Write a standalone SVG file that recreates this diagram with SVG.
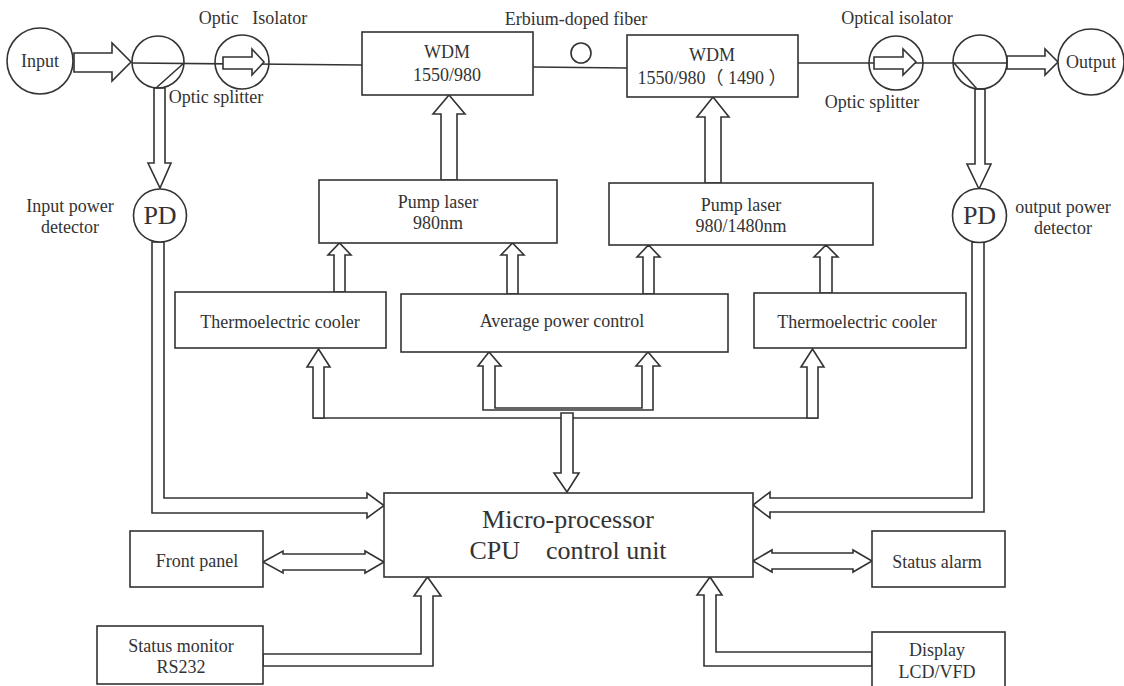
<svg xmlns="http://www.w3.org/2000/svg" width="1124" height="686" viewBox="0 0 1124 686">
<style>
.b{fill:#fff;stroke:#333;stroke-width:1.6}
.l{fill:none;stroke:#333;stroke-width:1.6}
.a{fill:#fff;stroke:#333;stroke-width:1.6;stroke-linejoin:miter}
text{font-family:"Liberation Serif","Noto Sans CJK SC",serif;fill:#333;font-size:18px;text-anchor:middle}
.big{font-size:26px}
</style>
<rect width="1124" height="686" fill="#fff"/>
<g id="connectors">
<polyline class="l" points="132,63 362,65"/>
<polyline class="l" points="533,67 627,68"/>
<polyline class="l" points="798,63 1007,63"/>
<line class="l" x1="184" y1="63" x2="156" y2="88"/>
<line class="l" x1="954" y1="63" x2="977" y2="89"/>
<polygon class="a" points="74,53 112,53 112,43 131,62 112,81 112,72 74,72"/>
<polygon class="a" points="1007,56 1045,56 1045,49 1058,62 1045,75 1045,69 1007,69"/>
<polygon class="a" points="154,88 154,163 148,163 160,188 171,163 165,163 165,88"/>
<polygon class="a" points="975,89 975,164 967,164 979,189 991,164 985,164 985,89"/>
<polygon class="a" points="441,180 441,114 433,114 449,95 465,114 457,114 457,180"/>
<polygon class="a" points="705,183 705,117 697,117 713,97 729,117 721,117 721,183"/>
<polygon class="a" points="334,292 334,255 328,255 339.5,243 351,255 345,255 345,292"/>
<polygon class="a" points="507,294 507,255 501,255 512.5,243 524,255 518,255 518,294"/>
<polygon class="a" points="643,294 643,257 637,257 648.5,245 660,257 654,257 654,294"/>
<polygon class="a" points="820,293 820,257 814,257 826,245 838,257 832,257 832,293"/>
<line class="l" x1="313" y1="418" x2="818" y2="418"/>
<polygon class="a" points="313,418 313,367 307,367 318.5,349 330,367 324,367 324,418"/>
<polygon class="a" points="807,418 807,367 801,367 812.5,349 824,367 818,367 818,418"/>
<polygon class="a" points="483,410 483,366 478,366 489,352 501,366 495,366 495,408 642,408 642,366 636,366 648,352 660,366 653,366 653,410"/>
<polygon class="a" points="561,413 573,413 573,473 579,473 567,492 554,473 561,473"/>
<polygon class="a" points="164,242 164,498 367,498 367,493 384,505.5 367,518 367,513 152,513 152,242"/>
<polygon class="a" points="972,242 972,498 770,498 770,492 753,505 770,518 770,512 984,512 984,242"/>
<polygon class="a" points="263,562 283,551 283,554 365,554 365,551 384,562 365,573 365,570 283,570 283,573"/>
<polygon class="a" points="753,561 772,550 772,553 853,553 853,550 872,561 853,572 853,569 772,569 772,572"/>
<polygon class="a" points="263,654 421,654 421,596 414,596 427.5,577 441,596 433,596 433,666 263,666"/>
<polygon class="a" points="872,652 716,652 716,595 722,595 710,577 697,595 704,595 704,666 872,666"/>
</g>
<g id="input"><circle class="b" cx="40" cy="61" r="33"/><text x="40" y="67">Input</text></g>
<g id="splitter-in"><circle class="l" cx="158" cy="62" r="26"/><text x="216" y="103">Optic splitter</text></g>
<g id="isolator-in"><circle class="l" cx="242" cy="62" r="27"/><polygon class="a" points="223,57 252,57 252,49 264,62 252,75 252,69 223,69"/><text x="253" y="24" xml:space="preserve">Optic   Isolator</text></g>
<g id="wdm1"><rect class="b" x="362" y="32" width="171" height="63"/><text x="447" y="58">WDM</text><text x="447" y="81">1550/980</text></g>
<g id="edf"><circle class="l" cx="581" cy="53" r="10"/><text x="576" y="25">Erbium-doped fiber</text></g>
<g id="wdm2"><rect class="b" x="627" y="35" width="171" height="62"/><text x="712" y="61">WDM</text><text x="712" y="84">1550/980（ 1490 ）</text></g>
<g id="isolator-out"><circle class="l" cx="896" cy="63" r="27"/><polygon class="a" points="874,57 903,57 903,49 916,62 903,75 903,69 874,69"/><text x="897" y="24">Optical isolator</text></g>
<g id="splitter-out"><circle class="l" cx="980" cy="62" r="27"/><text x="872" y="108">Optic splitter</text></g>
<g id="output"><circle class="b" cx="1091" cy="62" r="33"/><text x="1091" y="68">Output</text></g>
<g id="pd-in"><circle class="b" cx="160" cy="215.5" r="26.5"/><text class="big" x="160" y="224">PD</text><text x="70" y="212">Input power</text><text x="70" y="233">detector</text></g>
<g id="pd-out"><circle class="b" cx="979.5" cy="215.5" r="27"/><text class="big" x="979.5" y="224">PD</text><text x="1063" y="213">output power</text><text x="1063" y="234">detector</text></g>
<g id="pump1"><rect class="b" x="319" y="180" width="238" height="63"/><text x="438" y="208">Pump laser</text><text x="438" y="229">980nm</text></g>
<g id="pump2"><rect class="b" x="609" y="183" width="264" height="62"/><text x="741" y="211">Pump laser</text><text x="741" y="232">980/1480nm</text></g>
<g id="tec1"><rect class="b" x="175" y="292" width="211" height="56"/><text x="280" y="328">Thermoelectric cooler</text></g>
<g id="apc"><rect class="b" x="401" y="294" width="327" height="58"/><text x="562" y="327">Average power control</text></g>
<g id="tec2"><rect class="b" x="754" y="293" width="212" height="55"/><text x="857" y="328">Thermoelectric cooler</text></g>
<g id="cpu"><rect class="b" x="384" y="493" width="369" height="84"/><text class="big" x="568" y="528">Micro-processor</text><text class="big" x="568" y="559" xml:space="preserve">CPU    control unit</text></g>
<g id="front-panel"><rect class="b" x="130" y="531" width="133" height="56"/><text x="197" y="567">Front panel</text></g>
<g id="status-alarm"><rect class="b" x="872" y="531" width="133" height="56"/><text x="937" y="568">Status alarm</text></g>
<g id="status-monitor"><rect class="b" x="97" y="626" width="166" height="58"/><text x="181" y="652">Status monitor</text><text x="181" y="673">RS232</text></g>
<g id="display"><rect class="b" x="872" y="632" width="133" height="60"/><text x="937" y="656">Display</text><text x="937" y="678">LCD/VFD</text></g>
</svg>
